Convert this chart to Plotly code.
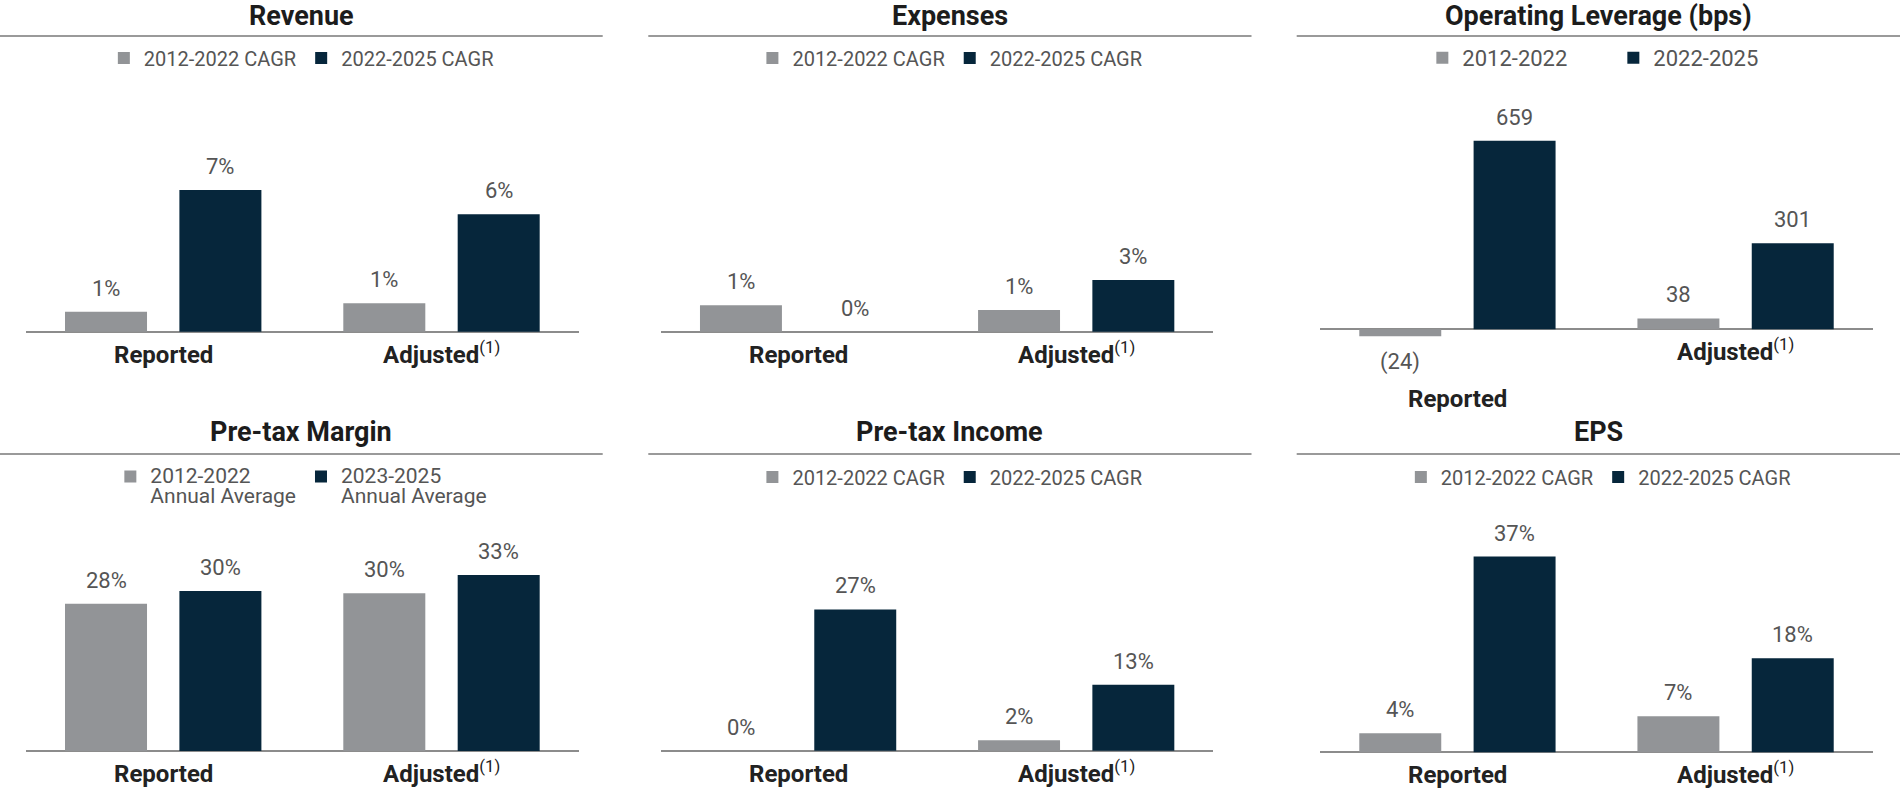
import plotly.graph_objects as go

# ---------------- data ----------------
categories = ["Reported", "Adjusted"]
category_labels = ["<b>Reported</b>", "<b>Adjusted</b><sup>(1)</sup>"]

titles = ["Revenue", "Expenses", "Operating Leverage (bps)",
          "Pre-tax Margin", "Pre-tax Income", "EPS"]

cagr_names = ["2012-2022 CAGR", "2022-2025 CAGR"]
oplev_names = ["2012-2022", "2022-2025"]
margin_names = ["2012-2022<br>Annual Average", "2023-2025<br>Annual Average"]

revenue_hist = [0.99, 1.40]
revenue_fwd = [7.0, 5.8]
revenue_hist_lbl = ["1%", "1%"]
revenue_fwd_lbl = ["7%", "6%"]

expenses_hist = [1.43, 1.18]
expenses_fwd = [0.0, 2.8]
expenses_hist_lbl = ["1%", "1%"]
expenses_fwd_lbl = ["0%", "3%"]

oplev_hist = [-24, 38]
oplev_fwd = [659, 301]
oplev_hist_lbl = ["(24)", "38"]
oplev_fwd_lbl = ["659", "301"]

margin_hist = [27.6, 29.6]
margin_fwd = [30.0, 33.0]
margin_hist_lbl = ["28%", "30%"]
margin_fwd_lbl = ["30%", "33%"]

income_hist = [0.0, 2.0]
income_fwd = [27.0, 12.6]
income_hist_lbl = ["0%", "2%"]
income_fwd_lbl = ["27%", "13%"]

eps_hist = [3.6, 6.8]
eps_fwd = [37.0, 17.8]
eps_hist_lbl = ["4%", "7%"]
eps_fwd_lbl = ["37%", "18%"]

# ---------------- style / layout ----------------
W, H = 1900, 791
GRAY = "#929497"
NAVY = "#06263b"
LABEL_COLOR = "#555555"
TITLE_COLOR = "#1c1c1c"
LINE_COLOR = "#9a9a9a"
FONT = "Roboto"
BARGAP = 0.178
BARGROUPGAP = 0.283

def fx(px):
    return px / W

def fy(py):
    return 1 - py / H

col_domains = [(26, 578.7), (661, 1213.3), (1320.3, 1872.7)]
col_dividers = [(0, 602.7), (648.3, 1251.5), (1296.7, 1900)]
row_domains = [(70, 345), (500, 770)]
row_divider_y = [36, 454]
row_title_y = [16, 432]
row_legend_y = [58, 477]

charts = [
    dict(title=titles[0], names=cagr_names, vals=[revenue_hist, revenue_fwd],
         lbls=[revenue_hist_lbl, revenue_fwd_lbl], yrange=[-0.657, 12.93]),
    dict(title=titles[1], names=cagr_names, vals=[expenses_hist, expenses_fwd],
         lbls=[expenses_hist_lbl, expenses_fwd_lbl], yrange=[-0.72, 14.18]),
    dict(title=titles[2], names=oplev_names, vals=[oplev_hist, oplev_fwd],
         lbls=[oplev_hist_lbl, oplev_fwd_lbl], yrange=[-54.9, 906],
         entrywidth=146, legend_dx=15, legend_size=22),
    dict(title=titles[3], names=margin_names, vals=[margin_hist, margin_fwd],
         lbls=[margin_hist_lbl, margin_fwd_lbl], yrange=[-3.56, 47.06], twoline=True),
    dict(title=titles[4], names=cagr_names, vals=[income_hist, income_fwd],
         lbls=[income_hist_lbl, income_fwd_lbl], yrange=[-3.69, 47.9]),
    dict(title=titles[5], names=cagr_names, vals=[eps_hist, eps_fwd],
         lbls=[eps_hist_lbl, eps_fwd_lbl], yrange=[-3.35, 47.7]),
]

fig = go.Figure()
annotations = []
shapes = []
layout_extra = {}
colors = [GRAY, NAVY]
slot = (1 - BARGAP) / 2

for i, ch in enumerate(charts):
    r, c = divmod(i, 3)
    n = i + 1
    xa = "x" if n == 1 else f"x{n}"
    ya = "y" if n == 1 else f"y{n}"
    lg = "legend" if n == 1 else f"legend{n}"
    twoline = ch.get("twoline", False)
    for s in range(2):
        name = ch["names"][s]
        if twoline:
            name = "<br>".join(f"<span style='font-size:21px'>{p}</span>"
                               for p in name.split("<br>"))
        fig.add_trace(go.Bar(
            x=categories, y=ch["vals"][s], name=name,
            marker=dict(color=colors[s], line=dict(width=0)),
            xaxis=xa, yaxis=ya, legend=lg, hoverinfo="skip",
        ))
        # value labels
        for j, v in enumerate(ch["vals"][s]):
            neg = v < 0
            annotations.append(dict(
                x=j + (s - 0.5) * slot, y=v, xref=xa, yref=ya,
                text=ch["lbls"][s][j], showarrow=False,
                xanchor="center", yanchor="top" if neg else "bottom",
                yshift=-11 if neg else 9,
                font=dict(family=FONT, size=22, color=LABEL_COLOR),
            ))
    # category labels (anchored at their bottom so baselines line up)
    for j, lab in enumerate(category_labels):
        shift = -39
        if min(ch["vals"][0][j], ch["vals"][1][j]) < 0:
            shift = -86
        annotations.append(dict(
            x=j, y=0, xref=xa, yref=ya, text=lab, showarrow=False,
            xanchor="center", yanchor="bottom", yshift=shift,
            font=dict(family=FONT, size=24, color="#222222"),
        ))
    x0, x1 = col_domains[c]
    top, bot = row_domains[r]
    layout_extra["xaxis" if n == 1 else f"xaxis{n}"] = dict(
        domain=[fx(x0), fx(x1)], range=[-0.493, 1.493], anchor=ya,
        showticklabels=False, showgrid=False, zeroline=False, showline=False,
        ticks="", fixedrange=True,
    )
    layout_extra["yaxis" if n == 1 else f"yaxis{n}"] = dict(
        domain=[fy(bot), fy(top)], range=ch["yrange"], anchor=xa,
        showticklabels=False, showgrid=False, showline=False, ticks="",
        zeroline=True, zerolinecolor="#8c8c8c", zerolinewidth=2, fixedrange=True,
    )
    # title & divider
    d0, d1 = col_dividers[c]
    annotations.append(dict(
        x=fx((d0 + d1) / 2), y=fy(row_title_y[r]), xref="paper", yref="paper",
        text=f"<b>{ch['title']}</b>", showarrow=False, xanchor="center", yanchor="middle",
        font=dict(family=FONT, size=27, color=TITLE_COLOR),
    ))
    shapes.append(dict(type="line", xref="paper", yref="paper",
                       x0=fx(d0), x1=fx(d1), y0=fy(row_divider_y[r]), y1=fy(row_divider_y[r]),
                       line=dict(color=LINE_COLOR, width=2)))
    leg = dict(
        orientation="h", x=fx((d0 + d1) / 2 + ch.get("legend_dx", 0)),
        y=fy(row_legend_y[r] + (10 if twoline else 0)),
        xanchor="center", yanchor="middle", bgcolor="rgba(0,0,0,0)",
        font=dict(family=FONT, size=16 if twoline else ch.get("legend_size", 20),
                  color=LABEL_COLOR),
        traceorder="normal", valign="top", itemclick=False, itemdoubleclick=False,
    )
    if "entrywidth" in ch:
        leg["entrywidth"] = ch["entrywidth"]
        leg["entrywidthmode"] = "pixels"
    layout_extra[lg] = leg

fig.update_layout(
    width=W, height=H, autosize=False,
    margin=dict(l=0, r=0, t=0, b=0),
    paper_bgcolor="white", plot_bgcolor="white",
    barmode="group", bargap=BARGAP, bargroupgap=BARGROUPGAP,
    showlegend=True,
    annotations=annotations, shapes=shapes,
    font=dict(family=FONT),
    **layout_extra,
)

fig.write_html("out.html", config={"displayModeBar": False},
               post_script="document.body.style.margin='0px';document.body.style.overflow='hidden';")
